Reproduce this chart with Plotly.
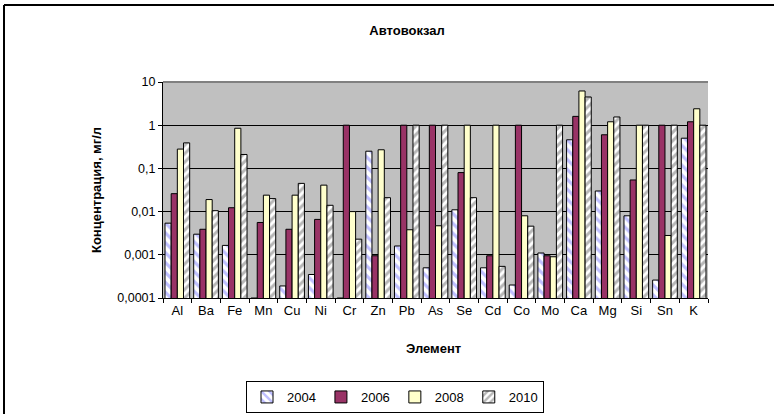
import plotly.graph_objects as go

elements = ["Al", "Ba", "Fe", "Mn", "Cu", "Ni", "Cr", "Zn", "Pb", "As",
            "Se", "Cd", "Co", "Mo", "Ca", "Mg", "Si", "Sn", "K"]

y2004 = [0.0054, 0.003, 0.00165, 0.0001, 0.00019, 0.00035, 0.0001, 0.25, 0.0016, 0.0005,
         0.011, 0.0005, 0.0002, 0.0011, 0.46, 0.03, 0.008, 0.00026, 0.5]
y2006 = [0.026, 0.0039, 0.0123, 0.0056, 0.0039, 0.0066, 1.0, 0.00095, 1.0, 1.0,
         0.08, 0.00095, 1.0, 0.00095, 1.6, 0.6, 0.054, 1.0, 1.2]
y2008 = [0.28, 0.019, 0.85, 0.024, 0.024, 0.041, 0.01, 0.27, 0.0038, 0.0047,
         1.0, 1.0, 0.008, 0.0009, 6.2, 1.2, 1.0, 0.0028, 2.4]
y2010 = [0.39, 0.0105, 0.21, 0.02, 0.045, 0.014, 0.0023, 0.021, 1.0, 1.0,
         0.021, 0.00054, 0.0046, 1.0, 4.5, 1.55, 1.0, 1.0, 1.0]

series_names = ["2004", "2006", "2008", "2010"]
tick_vals = [0.0001, 0.001, 0.01, 0.1, 1, 10]
tick_text = ["0,0001", "0,001", "0,01", "0,1", "1", "10"]

W, H = 774, 414
L, R, T, B = 163, 66, 82, 116
FONT = "Liberation Sans"
FS = 12.5

styles = [
    dict(color="white", pattern=dict(shape="\\", fgcolor="#8080ff", bgcolor="white", size=7, solidity=0.45)),
    dict(color="#993366"),
    dict(color="#ffffcc"),
    dict(color="white", pattern=dict(shape="/", fgcolor="#707070", bgcolor="white", size=6, solidity=0.5)),
]

fig = go.Figure()
for name, vals, st in zip(series_names, [y2004, y2006, y2008, y2010], styles):
    marker = dict(line=dict(color="black", width=1), **st)
    fig.add_trace(go.Bar(x=elements, y=vals, name=name, marker=marker))

pw = W - L - R
ph = H - T - B

def px_x(p):
    return (p - L) / pw

def px_y(p):
    return (H - B - p) / ph

fig.update_layout(
    width=W, height=H,
    margin=dict(l=L, r=R, t=T, b=B, autoexpand=False),
    paper_bgcolor="white",
    plot_bgcolor="#c0c0c0",
    font=dict(family=FONT, size=FS, color="black"),
    barmode="group",
    bargap=0.14,
    bargroupgap=0.0,
    title=dict(text="<b>Автовокзал</b>", x=407 / W, xanchor="center", y=1 - 30 / H,
               yanchor="middle", font=dict(size=13, family=FONT)),
    xaxis=dict(
        showline=True, linecolor="black", linewidth=1,
        ticks="outside", tickson="boundaries", ticklen=4, tickcolor="black",
        showgrid=False, tickfont=dict(size=13),
    ),
    yaxis=dict(
        type="log", range=[-4, 1],
        title=dict(text="<b>Концентрация, мг/л</b>", font=dict(size=13), standoff=12),
        tickvals=tick_vals, ticktext=tick_text,
        showline=True, linecolor="black", linewidth=1,
        ticks="outside", ticklen=4, tickcolor="black",
        showgrid=True, gridcolor="black", gridwidth=1,
        zeroline=False, tickfont=dict(size=FS),
    ),
    legend=dict(
        orientation="h", x=395 / W, xanchor="center", y=1 - 381 / H, yanchor="top",
        xref="container", yref="container",
        bordercolor="black", borderwidth=1, bgcolor="white",
        font=dict(size=13), itemwidth=30, tracegroupgap=0,
    ),
    showlegend=True,
)

# x-axis title
fig.add_annotation(text="<b>Элемент</b>", xref="paper", yref="paper",
                   x=px_x(433), y=px_y(348), xanchor="center", yanchor="middle",
                   showarrow=False, font=dict(size=13))

# outer chart frame (top and left edges visible)
fig.add_shape(type="line", xref="paper", yref="paper",
              x0=px_x(4), x1=px_x(774), y0=px_y(5), y1=px_y(5),
              line=dict(color="black", width=2), layer="above")
fig.add_shape(type="line", xref="paper", yref="paper",
              x0=px_x(4), x1=px_x(4), y0=px_y(5), y1=px_y(414),
              line=dict(color="black", width=2), layer="above")
# back wall top edge (3D hint)
fig.add_shape(type="line", xref="paper", yref="paper",
              x0=0, x1=1, y0=1, y1=1,
              line=dict(color="#808080", width=2), layer="below")

fig.write_html("out.html", config={"displayModeBar": False},
               post_script="document.body.style.margin='0';")
